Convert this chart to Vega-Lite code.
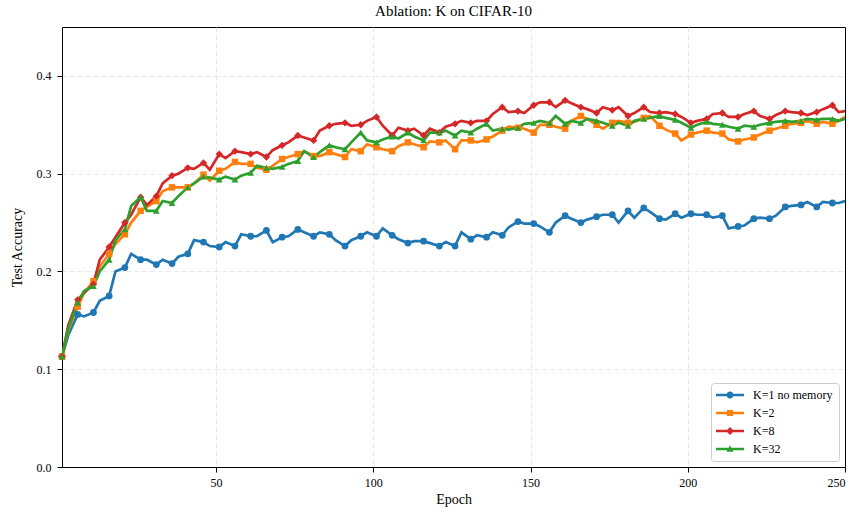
{
  "$schema": "https://vega.github.io/schema/vega-lite/v6.json",
  "width": 783,
  "height": 440,
  "autosize": "none",
  "padding": {"left": 62, "top": 27, "right": 12, "bottom": 45},
  "background": "white",
  "title": {"text": "Ablation: K on CIFAR-10", "font": "Liberation Serif", "fontSize": 15, "fontWeight": "normal", "color": "black", "offset": 8, "anchor": "middle"},
  "data": {"values": [
{"epoch":1,"k":"K=1 no memory","acc":0.113},{"epoch":3,"k":"K=1 no memory","acc":0.135},{"epoch":6,"k":"K=1 no memory","acc":0.156},{"epoch":8,"k":"K=1 no memory","acc":0.154},{"epoch":11,"k":"K=1 no memory","acc":0.158},{"epoch":13,"k":"K=1 no memory","acc":0.170},{"epoch":16,"k":"K=1 no memory","acc":0.175},{"epoch":18,"k":"K=1 no memory","acc":0.200},{"epoch":21,"k":"K=1 no memory","acc":0.204},{"epoch":23,"k":"K=1 no memory","acc":0.218},{"epoch":26,"k":"K=1 no memory","acc":0.212},{"epoch":28,"k":"K=1 no memory","acc":0.212},{"epoch":31,"k":"K=1 no memory","acc":0.207},{"epoch":33,"k":"K=1 no memory","acc":0.212},{"epoch":36,"k":"K=1 no memory","acc":0.208},{"epoch":38,"k":"K=1 no memory","acc":0.215},{"epoch":41,"k":"K=1 no memory","acc":0.218},{"epoch":43,"k":"K=1 no memory","acc":0.232},{"epoch":46,"k":"K=1 no memory","acc":0.230},{"epoch":48,"k":"K=1 no memory","acc":0.226},{"epoch":51,"k":"K=1 no memory","acc":0.225},{"epoch":53,"k":"K=1 no memory","acc":0.230},{"epoch":56,"k":"K=1 no memory","acc":0.226},{"epoch":58,"k":"K=1 no memory","acc":0.238},{"epoch":61,"k":"K=1 no memory","acc":0.236},{"epoch":63,"k":"K=1 no memory","acc":0.236},{"epoch":66,"k":"K=1 no memory","acc":0.242},{"epoch":68,"k":"K=1 no memory","acc":0.230},{"epoch":71,"k":"K=1 no memory","acc":0.235},{"epoch":73,"k":"K=1 no memory","acc":0.236},{"epoch":76,"k":"K=1 no memory","acc":0.243},{"epoch":78,"k":"K=1 no memory","acc":0.240},{"epoch":81,"k":"K=1 no memory","acc":0.236},{"epoch":83,"k":"K=1 no memory","acc":0.240},{"epoch":86,"k":"K=1 no memory","acc":0.238},{"epoch":88,"k":"K=1 no memory","acc":0.232},{"epoch":91,"k":"K=1 no memory","acc":0.226},{"epoch":93,"k":"K=1 no memory","acc":0.232},{"epoch":96,"k":"K=1 no memory","acc":0.236},{"epoch":98,"k":"K=1 no memory","acc":0.240},{"epoch":101,"k":"K=1 no memory","acc":0.236},{"epoch":103,"k":"K=1 no memory","acc":0.244},{"epoch":106,"k":"K=1 no memory","acc":0.237},{"epoch":108,"k":"K=1 no memory","acc":0.233},{"epoch":111,"k":"K=1 no memory","acc":0.229},{"epoch":113,"k":"K=1 no memory","acc":0.231},{"epoch":116,"k":"K=1 no memory","acc":0.231},{"epoch":118,"k":"K=1 no memory","acc":0.229},{"epoch":121,"k":"K=1 no memory","acc":0.226},{"epoch":123,"k":"K=1 no memory","acc":0.230},{"epoch":126,"k":"K=1 no memory","acc":0.226},{"epoch":128,"k":"K=1 no memory","acc":0.240},{"epoch":131,"k":"K=1 no memory","acc":0.233},{"epoch":133,"k":"K=1 no memory","acc":0.237},{"epoch":136,"k":"K=1 no memory","acc":0.235},{"epoch":138,"k":"K=1 no memory","acc":0.240},{"epoch":141,"k":"K=1 no memory","acc":0.237},{"epoch":143,"k":"K=1 no memory","acc":0.245},{"epoch":146,"k":"K=1 no memory","acc":0.251},{"epoch":148,"k":"K=1 no memory","acc":0.249},{"epoch":151,"k":"K=1 no memory","acc":0.249},{"epoch":153,"k":"K=1 no memory","acc":0.246},{"epoch":156,"k":"K=1 no memory","acc":0.240},{"epoch":158,"k":"K=1 no memory","acc":0.250},{"epoch":161,"k":"K=1 no memory","acc":0.257},{"epoch":163,"k":"K=1 no memory","acc":0.254},{"epoch":166,"k":"K=1 no memory","acc":0.250},{"epoch":168,"k":"K=1 no memory","acc":0.253},{"epoch":171,"k":"K=1 no memory","acc":0.256},{"epoch":173,"k":"K=1 no memory","acc":0.258},{"epoch":176,"k":"K=1 no memory","acc":0.258},{"epoch":178,"k":"K=1 no memory","acc":0.250},{"epoch":181,"k":"K=1 no memory","acc":0.262},{"epoch":183,"k":"K=1 no memory","acc":0.255},{"epoch":186,"k":"K=1 no memory","acc":0.265},{"epoch":188,"k":"K=1 no memory","acc":0.261},{"epoch":191,"k":"K=1 no memory","acc":0.254},{"epoch":193,"k":"K=1 no memory","acc":0.253},{"epoch":196,"k":"K=1 no memory","acc":0.259},{"epoch":198,"k":"K=1 no memory","acc":0.255},{"epoch":201,"k":"K=1 no memory","acc":0.259},{"epoch":203,"k":"K=1 no memory","acc":0.258},{"epoch":206,"k":"K=1 no memory","acc":0.258},{"epoch":208,"k":"K=1 no memory","acc":0.255},{"epoch":211,"k":"K=1 no memory","acc":0.257},{"epoch":213,"k":"K=1 no memory","acc":0.244},{"epoch":216,"k":"K=1 no memory","acc":0.246},{"epoch":218,"k":"K=1 no memory","acc":0.247},{"epoch":221,"k":"K=1 no memory","acc":0.254},{"epoch":223,"k":"K=1 no memory","acc":0.255},{"epoch":226,"k":"K=1 no memory","acc":0.254},{"epoch":228,"k":"K=1 no memory","acc":0.257},{"epoch":231,"k":"K=1 no memory","acc":0.266},{"epoch":233,"k":"K=1 no memory","acc":0.267},{"epoch":236,"k":"K=1 no memory","acc":0.268},{"epoch":238,"k":"K=1 no memory","acc":0.271},{"epoch":241,"k":"K=1 no memory","acc":0.266},{"epoch":243,"k":"K=1 no memory","acc":0.271},{"epoch":246,"k":"K=1 no memory","acc":0.270},{"epoch":248,"k":"K=1 no memory","acc":0.270},{"epoch":250,"k":"K=1 no memory","acc":0.272},
{"epoch":1,"k":"K=2","acc":0.113},{"epoch":3,"k":"K=2","acc":0.140},{"epoch":6,"k":"K=2","acc":0.164},{"epoch":8,"k":"K=2","acc":0.178},{"epoch":11,"k":"K=2","acc":0.190},{"epoch":13,"k":"K=2","acc":0.205},{"epoch":16,"k":"K=2","acc":0.218},{"epoch":18,"k":"K=2","acc":0.228},{"epoch":21,"k":"K=2","acc":0.238},{"epoch":23,"k":"K=2","acc":0.250},{"epoch":26,"k":"K=2","acc":0.262},{"epoch":28,"k":"K=2","acc":0.266},{"epoch":31,"k":"K=2","acc":0.272},{"epoch":33,"k":"K=2","acc":0.282},{"epoch":36,"k":"K=2","acc":0.286},{"epoch":38,"k":"K=2","acc":0.286},{"epoch":41,"k":"K=2","acc":0.286},{"epoch":43,"k":"K=2","acc":0.290},{"epoch":46,"k":"K=2","acc":0.299},{"epoch":48,"k":"K=2","acc":0.293},{"epoch":51,"k":"K=2","acc":0.303},{"epoch":53,"k":"K=2","acc":0.305},{"epoch":56,"k":"K=2","acc":0.312},{"epoch":58,"k":"K=2","acc":0.310},{"epoch":61,"k":"K=2","acc":0.310},{"epoch":63,"k":"K=2","acc":0.306},{"epoch":66,"k":"K=2","acc":0.304},{"epoch":68,"k":"K=2","acc":0.308},{"epoch":71,"k":"K=2","acc":0.315},{"epoch":73,"k":"K=2","acc":0.317},{"epoch":76,"k":"K=2","acc":0.320},{"epoch":78,"k":"K=2","acc":0.323},{"epoch":81,"k":"K=2","acc":0.318},{"epoch":83,"k":"K=2","acc":0.318},{"epoch":86,"k":"K=2","acc":0.322},{"epoch":88,"k":"K=2","acc":0.320},{"epoch":91,"k":"K=2","acc":0.317},{"epoch":93,"k":"K=2","acc":0.325},{"epoch":96,"k":"K=2","acc":0.323},{"epoch":98,"k":"K=2","acc":0.330},{"epoch":101,"k":"K=2","acc":0.327},{"epoch":103,"k":"K=2","acc":0.325},{"epoch":106,"k":"K=2","acc":0.323},{"epoch":108,"k":"K=2","acc":0.328},{"epoch":111,"k":"K=2","acc":0.332},{"epoch":113,"k":"K=2","acc":0.330},{"epoch":116,"k":"K=2","acc":0.327},{"epoch":118,"k":"K=2","acc":0.333},{"epoch":121,"k":"K=2","acc":0.332},{"epoch":123,"k":"K=2","acc":0.334},{"epoch":126,"k":"K=2","acc":0.325},{"epoch":128,"k":"K=2","acc":0.334},{"epoch":131,"k":"K=2","acc":0.334},{"epoch":133,"k":"K=2","acc":0.332},{"epoch":136,"k":"K=2","acc":0.335},{"epoch":138,"k":"K=2","acc":0.338},{"epoch":141,"k":"K=2","acc":0.344},{"epoch":143,"k":"K=2","acc":0.348},{"epoch":146,"k":"K=2","acc":0.347},{"epoch":148,"k":"K=2","acc":0.346},{"epoch":151,"k":"K=2","acc":0.342},{"epoch":153,"k":"K=2","acc":0.350},{"epoch":156,"k":"K=2","acc":0.350},{"epoch":158,"k":"K=2","acc":0.348},{"epoch":161,"k":"K=2","acc":0.346},{"epoch":163,"k":"K=2","acc":0.354},{"epoch":166,"k":"K=2","acc":0.359},{"epoch":168,"k":"K=2","acc":0.356},{"epoch":171,"k":"K=2","acc":0.350},{"epoch":173,"k":"K=2","acc":0.346},{"epoch":176,"k":"K=2","acc":0.352},{"epoch":178,"k":"K=2","acc":0.354},{"epoch":181,"k":"K=2","acc":0.352},{"epoch":183,"k":"K=2","acc":0.353},{"epoch":186,"k":"K=2","acc":0.357},{"epoch":188,"k":"K=2","acc":0.359},{"epoch":191,"k":"K=2","acc":0.349},{"epoch":193,"k":"K=2","acc":0.345},{"epoch":196,"k":"K=2","acc":0.341},{"epoch":198,"k":"K=2","acc":0.334},{"epoch":201,"k":"K=2","acc":0.340},{"epoch":203,"k":"K=2","acc":0.342},{"epoch":206,"k":"K=2","acc":0.344},{"epoch":208,"k":"K=2","acc":0.342},{"epoch":211,"k":"K=2","acc":0.341},{"epoch":213,"k":"K=2","acc":0.335},{"epoch":216,"k":"K=2","acc":0.333},{"epoch":218,"k":"K=2","acc":0.335},{"epoch":221,"k":"K=2","acc":0.337},{"epoch":223,"k":"K=2","acc":0.340},{"epoch":226,"k":"K=2","acc":0.344},{"epoch":228,"k":"K=2","acc":0.346},{"epoch":231,"k":"K=2","acc":0.349},{"epoch":233,"k":"K=2","acc":0.351},{"epoch":236,"k":"K=2","acc":0.352},{"epoch":238,"k":"K=2","acc":0.354},{"epoch":241,"k":"K=2","acc":0.351},{"epoch":243,"k":"K=2","acc":0.353},{"epoch":246,"k":"K=2","acc":0.351},{"epoch":248,"k":"K=2","acc":0.354},{"epoch":250,"k":"K=2","acc":0.358},
{"epoch":1,"k":"K=8","acc":0.113},{"epoch":3,"k":"K=8","acc":0.145},{"epoch":6,"k":"K=8","acc":0.171},{"epoch":8,"k":"K=8","acc":0.178},{"epoch":11,"k":"K=8","acc":0.187},{"epoch":13,"k":"K=8","acc":0.212},{"epoch":16,"k":"K=8","acc":0.225},{"epoch":18,"k":"K=8","acc":0.235},{"epoch":21,"k":"K=8","acc":0.250},{"epoch":23,"k":"K=8","acc":0.258},{"epoch":26,"k":"K=8","acc":0.276},{"epoch":28,"k":"K=8","acc":0.268},{"epoch":31,"k":"K=8","acc":0.277},{"epoch":33,"k":"K=8","acc":0.290},{"epoch":36,"k":"K=8","acc":0.298},{"epoch":38,"k":"K=8","acc":0.300},{"epoch":41,"k":"K=8","acc":0.306},{"epoch":43,"k":"K=8","acc":0.305},{"epoch":46,"k":"K=8","acc":0.311},{"epoch":48,"k":"K=8","acc":0.304},{"epoch":51,"k":"K=8","acc":0.320},{"epoch":53,"k":"K=8","acc":0.316},{"epoch":56,"k":"K=8","acc":0.323},{"epoch":58,"k":"K=8","acc":0.322},{"epoch":61,"k":"K=8","acc":0.320},{"epoch":63,"k":"K=8","acc":0.322},{"epoch":66,"k":"K=8","acc":0.317},{"epoch":68,"k":"K=8","acc":0.324},{"epoch":71,"k":"K=8","acc":0.329},{"epoch":73,"k":"K=8","acc":0.332},{"epoch":76,"k":"K=8","acc":0.339},{"epoch":78,"k":"K=8","acc":0.337},{"epoch":81,"k":"K=8","acc":0.334},{"epoch":83,"k":"K=8","acc":0.344},{"epoch":86,"k":"K=8","acc":0.349},{"epoch":88,"k":"K=8","acc":0.351},{"epoch":91,"k":"K=8","acc":0.352},{"epoch":93,"k":"K=8","acc":0.349},{"epoch":96,"k":"K=8","acc":0.350},{"epoch":98,"k":"K=8","acc":0.354},{"epoch":101,"k":"K=8","acc":0.358},{"epoch":103,"k":"K=8","acc":0.349},{"epoch":106,"k":"K=8","acc":0.339},{"epoch":108,"k":"K=8","acc":0.347},{"epoch":111,"k":"K=8","acc":0.344},{"epoch":113,"k":"K=8","acc":0.346},{"epoch":116,"k":"K=8","acc":0.339},{"epoch":118,"k":"K=8","acc":0.346},{"epoch":121,"k":"K=8","acc":0.342},{"epoch":123,"k":"K=8","acc":0.348},{"epoch":126,"k":"K=8","acc":0.351},{"epoch":128,"k":"K=8","acc":0.354},{"epoch":131,"k":"K=8","acc":0.352},{"epoch":133,"k":"K=8","acc":0.354},{"epoch":136,"k":"K=8","acc":0.354},{"epoch":138,"k":"K=8","acc":0.361},{"epoch":141,"k":"K=8","acc":0.368},{"epoch":143,"k":"K=8","acc":0.363},{"epoch":146,"k":"K=8","acc":0.364},{"epoch":148,"k":"K=8","acc":0.362},{"epoch":151,"k":"K=8","acc":0.370},{"epoch":153,"k":"K=8","acc":0.373},{"epoch":156,"k":"K=8","acc":0.373},{"epoch":158,"k":"K=8","acc":0.368},{"epoch":161,"k":"K=8","acc":0.375},{"epoch":163,"k":"K=8","acc":0.372},{"epoch":166,"k":"K=8","acc":0.368},{"epoch":168,"k":"K=8","acc":0.366},{"epoch":171,"k":"K=8","acc":0.362},{"epoch":173,"k":"K=8","acc":0.368},{"epoch":176,"k":"K=8","acc":0.365},{"epoch":178,"k":"K=8","acc":0.368},{"epoch":181,"k":"K=8","acc":0.359},{"epoch":183,"k":"K=8","acc":0.362},{"epoch":186,"k":"K=8","acc":0.368},{"epoch":188,"k":"K=8","acc":0.363},{"epoch":191,"k":"K=8","acc":0.362},{"epoch":193,"k":"K=8","acc":0.363},{"epoch":196,"k":"K=8","acc":0.361},{"epoch":198,"k":"K=8","acc":0.358},{"epoch":201,"k":"K=8","acc":0.352},{"epoch":203,"k":"K=8","acc":0.354},{"epoch":206,"k":"K=8","acc":0.356},{"epoch":208,"k":"K=8","acc":0.361},{"epoch":211,"k":"K=8","acc":0.362},{"epoch":213,"k":"K=8","acc":0.358},{"epoch":216,"k":"K=8","acc":0.358},{"epoch":218,"k":"K=8","acc":0.361},{"epoch":221,"k":"K=8","acc":0.364},{"epoch":223,"k":"K=8","acc":0.359},{"epoch":226,"k":"K=8","acc":0.356},{"epoch":228,"k":"K=8","acc":0.360},{"epoch":231,"k":"K=8","acc":0.364},{"epoch":233,"k":"K=8","acc":0.363},{"epoch":236,"k":"K=8","acc":0.362},{"epoch":238,"k":"K=8","acc":0.360},{"epoch":241,"k":"K=8","acc":0.363},{"epoch":243,"k":"K=8","acc":0.366},{"epoch":246,"k":"K=8","acc":0.370},{"epoch":248,"k":"K=8","acc":0.363},{"epoch":250,"k":"K=8","acc":0.364},
{"epoch":1,"k":"K=32","acc":0.113},{"epoch":3,"k":"K=32","acc":0.142},{"epoch":6,"k":"K=32","acc":0.168},{"epoch":8,"k":"K=32","acc":0.180},{"epoch":11,"k":"K=32","acc":0.185},{"epoch":13,"k":"K=32","acc":0.200},{"epoch":16,"k":"K=32","acc":0.212},{"epoch":18,"k":"K=32","acc":0.232},{"epoch":21,"k":"K=32","acc":0.243},{"epoch":23,"k":"K=32","acc":0.267},{"epoch":26,"k":"K=32","acc":0.276},{"epoch":28,"k":"K=32","acc":0.262},{"epoch":31,"k":"K=32","acc":0.262},{"epoch":33,"k":"K=32","acc":0.272},{"epoch":36,"k":"K=32","acc":0.270},{"epoch":38,"k":"K=32","acc":0.277},{"epoch":41,"k":"K=32","acc":0.286},{"epoch":43,"k":"K=32","acc":0.290},{"epoch":46,"k":"K=32","acc":0.297},{"epoch":48,"k":"K=32","acc":0.296},{"epoch":51,"k":"K=32","acc":0.294},{"epoch":53,"k":"K=32","acc":0.297},{"epoch":56,"k":"K=32","acc":0.294},{"epoch":58,"k":"K=32","acc":0.298},{"epoch":61,"k":"K=32","acc":0.301},{"epoch":63,"k":"K=32","acc":0.308},{"epoch":66,"k":"K=32","acc":0.306},{"epoch":68,"k":"K=32","acc":0.305},{"epoch":71,"k":"K=32","acc":0.307},{"epoch":73,"k":"K=32","acc":0.310},{"epoch":76,"k":"K=32","acc":0.313},{"epoch":78,"k":"K=32","acc":0.323},{"epoch":81,"k":"K=32","acc":0.317},{"epoch":83,"k":"K=32","acc":0.322},{"epoch":86,"k":"K=32","acc":0.329},{"epoch":88,"k":"K=32","acc":0.327},{"epoch":91,"k":"K=32","acc":0.325},{"epoch":93,"k":"K=32","acc":0.332},{"epoch":96,"k":"K=32","acc":0.342},{"epoch":98,"k":"K=32","acc":0.334},{"epoch":101,"k":"K=32","acc":0.332},{"epoch":103,"k":"K=32","acc":0.335},{"epoch":106,"k":"K=32","acc":0.338},{"epoch":108,"k":"K=32","acc":0.336},{"epoch":111,"k":"K=32","acc":0.342},{"epoch":113,"k":"K=32","acc":0.338},{"epoch":116,"k":"K=32","acc":0.334},{"epoch":118,"k":"K=32","acc":0.342},{"epoch":121,"k":"K=32","acc":0.342},{"epoch":123,"k":"K=32","acc":0.344},{"epoch":126,"k":"K=32","acc":0.339},{"epoch":128,"k":"K=32","acc":0.344},{"epoch":131,"k":"K=32","acc":0.342},{"epoch":133,"k":"K=32","acc":0.346},{"epoch":136,"k":"K=32","acc":0.351},{"epoch":138,"k":"K=32","acc":0.344},{"epoch":141,"k":"K=32","acc":0.346},{"epoch":143,"k":"K=32","acc":0.345},{"epoch":146,"k":"K=32","acc":0.347},{"epoch":148,"k":"K=32","acc":0.351},{"epoch":151,"k":"K=32","acc":0.352},{"epoch":153,"k":"K=32","acc":0.354},{"epoch":156,"k":"K=32","acc":0.352},{"epoch":158,"k":"K=32","acc":0.359},{"epoch":161,"k":"K=32","acc":0.351},{"epoch":163,"k":"K=32","acc":0.354},{"epoch":166,"k":"K=32","acc":0.352},{"epoch":168,"k":"K=32","acc":0.356},{"epoch":171,"k":"K=32","acc":0.354},{"epoch":173,"k":"K=32","acc":0.352},{"epoch":176,"k":"K=32","acc":0.349},{"epoch":178,"k":"K=32","acc":0.352},{"epoch":181,"k":"K=32","acc":0.349},{"epoch":183,"k":"K=32","acc":0.354},{"epoch":186,"k":"K=32","acc":0.356},{"epoch":188,"k":"K=32","acc":0.357},{"epoch":191,"k":"K=32","acc":0.359},{"epoch":193,"k":"K=32","acc":0.357},{"epoch":196,"k":"K=32","acc":0.355},{"epoch":198,"k":"K=32","acc":0.352},{"epoch":201,"k":"K=32","acc":0.347},{"epoch":203,"k":"K=32","acc":0.350},{"epoch":206,"k":"K=32","acc":0.353},{"epoch":208,"k":"K=32","acc":0.351},{"epoch":211,"k":"K=32","acc":0.350},{"epoch":213,"k":"K=32","acc":0.348},{"epoch":216,"k":"K=32","acc":0.346},{"epoch":218,"k":"K=32","acc":0.349},{"epoch":221,"k":"K=32","acc":0.348},{"epoch":223,"k":"K=32","acc":0.350},{"epoch":226,"k":"K=32","acc":0.352},{"epoch":228,"k":"K=32","acc":0.353},{"epoch":231,"k":"K=32","acc":0.354},{"epoch":233,"k":"K=32","acc":0.353},{"epoch":236,"k":"K=32","acc":0.354},{"epoch":238,"k":"K=32","acc":0.356},{"epoch":241,"k":"K=32","acc":0.355},{"epoch":243,"k":"K=32","acc":0.356},{"epoch":246,"k":"K=32","acc":0.356},{"epoch":248,"k":"K=32","acc":0.354},{"epoch":250,"k":"K=32","acc":0.356}
  ]},
  "encoding": {
    "x": {"field": "epoch", "type": "quantitative", "scale": {"domain": [1, 250], "nice": false, "zero": false},
      "axis": {"title": "Epoch", "values": [50, 100, 150, 200, 250], "format": "d", "labelPadding": 5, "titlePadding": 4,
        "gridOpacity": {"condition": {"test": "datum.value >= 250", "value": 0}, "value": 1}}},
    "y": {"field": "acc", "type": "quantitative", "scale": {"domain": [0, 0.45], "nice": false},
      "axis": {"title": "Test Accuracy", "values": [0, 0.1, 0.2, 0.3, 0.4], "format": ".1f", "labelPadding": 6, "titlePadding": 12,
        "gridOpacity": {"condition": {"test": "datum.value <= 0", "value": 0}, "value": 1}}},
    "color": {"field": "k", "type": "nominal",
      "scale": {"domain": ["K=1 no memory", "K=2", "K=8", "K=32"], "range": ["#1f77b4", "#ff7f0e", "#d62728", "#2ca02c"]},
      "legend": {"title": null, "orient": "bottom-right", "offset": 6, "padding": 6,
        "symbolSize": 100, "symbolOffset": 7, "labelOffset": 17, "rowPadding": 6, "symbolStrokeWidth": 0, "symbolOpacity": 1,
        "labelFont": "Liberation Serif", "labelFontSize": 12, "labelColor": "black",
        "strokeColor": "#cccccc", "fillColor": "rgba(255,255,255,0.85)", "cornerRadius": 3}}
  },
  "layer": [
    {"mark": {"type": "line", "strokeWidth": 2.7, "clip": true}},
    {"transform": [{"filter": "datum.k === 'K=1 no memory' && (datum.epoch - 1) % 5 == 0"}],
     "mark": {"type": "point", "shape": "circle", "filled": true, "opacity": 1, "size": 46}},
    {"transform": [{"filter": "datum.k === 'K=2' && (datum.epoch - 1) % 5 == 0"}],
     "mark": {"type": "point", "shape": "square", "filled": true, "opacity": 1, "size": 42}},
    {"transform": [{"filter": "datum.k === 'K=8' && (datum.epoch - 1) % 5 == 0"}],
     "mark": {"type": "point", "shape": "diamond", "filled": true, "opacity": 1, "size": 54}},
    {"transform": [{"filter": "datum.k === 'K=32' && (datum.epoch - 1) % 5 == 0"}],
     "mark": {"type": "point", "shape": "triangle-up", "filled": true, "opacity": 1, "size": 46}},
    {"transform": [{"filter": "datum.epoch < 0"}],
     "mark": {"type": "point", "filled": true, "opacity": 1, "size": 100},
     "encoding": {
       "shape": {"field": "k", "type": "nominal",
         "scale": {"domain": ["K=1 no memory", "K=2", "K=8", "K=32"],
           "range": ["M-2.8,-0.25H2.8V0.25H-2.8Z M0.7,0A0.7,0.7 0 1,1 -0.7,0A0.7,0.7 0 1,1 0.7,0Z", "M-2.8,-0.25H2.8V0.25H-2.8Z M-0.6,-0.6H0.6V0.6H-0.6Z", "M-2.8,-0.25H2.8V0.25H-2.8Z M0,-0.8L0.8,0L0,0.8L-0.8,0Z", "M-2.8,-0.25H2.8V0.25H-2.8Z M0,-0.75L0.7,0.55L-0.7,0.55Z"]},
         "legend": {"title": null, "orient": "bottom-right", "offset": 6, "padding": 6,
           "symbolSize": 100, "symbolOffset": 7, "labelOffset": 17, "rowPadding": 6, "symbolStrokeWidth": 0, "symbolOpacity": 1,
           "labelFont": "Liberation Serif", "labelFontSize": 12, "labelColor": "black",
           "strokeColor": "#cccccc", "fillColor": "rgba(255,255,255,0.85)", "cornerRadius": 3}}
     }}
  ],
  "config": {
    "font": "Liberation Serif",
    "view": {"stroke": "black", "strokeWidth": 1},
    "axis": {"labelFont": "Liberation Serif", "labelFontSize": 12, "labelColor": "black", "titleFont": "Liberation Serif", "titleFontSize": 14, "titleFontWeight": "normal", "titleColor": "black",
      "domain": false, "tickColor": "black", "tickSize": 5, "grid": true, "gridColor": "#e3e3e3", "gridDash": [5, 3], "gridWidth": 0.8}
  }
}
